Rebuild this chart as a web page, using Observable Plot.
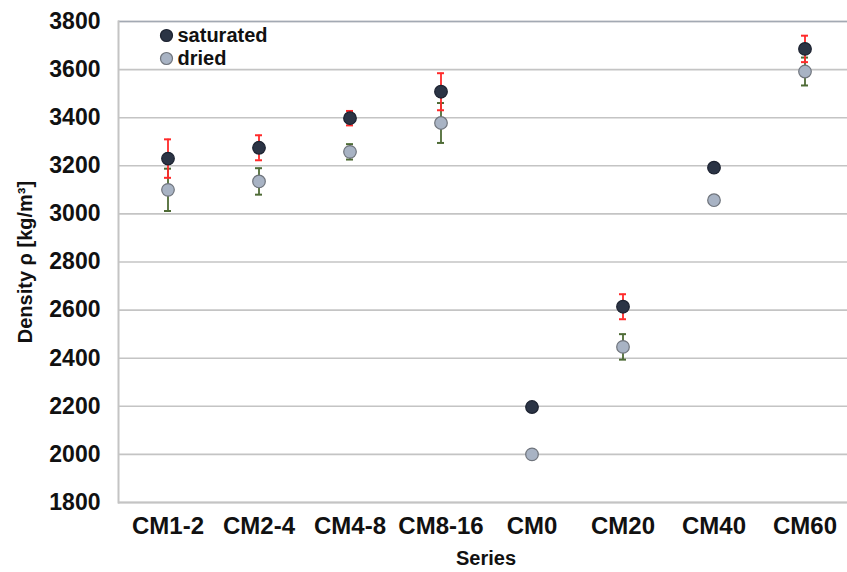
<!DOCTYPE html>
<html>
<head>
<meta charset="utf-8">
<script src="https://cdn.jsdelivr.net/npm/d3@7"></script>
<script src="https://cdn.jsdelivr.net/npm/@observablehq/plot@0.6"></script>
<style>
  html, body { margin: 0; padding: 0; background: #fff; overflow: hidden; }
  #chart svg { display: block; }
</style>
</head>
<body>
<div id="chart"></div>
<script>
// Mix series
const series = ["CM1-2", "CM2-4", "CM4-8", "CM8-16", "CM0", "CM20", "CM40", "CM60"];

// Density of saturated specimens [kg/m3] and its standard deviation
const saturated    = [3230, 3275, 3398, 3508, 2197, 2614, 3192, 3686];
const saturatedErr = [  80,   52,   30,   77,    0,   52,    0,   55];

// Density of dried specimens [kg/m3] and its standard deviation
const dried    = [3100, 3135, 3258, 3378, 2000, 2447, 3057, 3592];
const driedErr = [  88,   55,   32,   83,    0,   53,    0,   58];

// Y axis ticks
const yTicks = [1800, 2000, 2200, 2400, 2600, 2800, 3000, 3200, 3400, 3600, 3800];

const rows = [];
series.forEach((s, i) => {
  rows.push({series: s, state: "dried", value: dried[i], err: driedErr[i]});
  rows.push({series: s, state: "saturated", value: saturated[i], err: saturatedErr[i]});
});
const driedRows = rows.filter(d => d.state === "dried");
const satRows = rows.filter(d => d.state === "saturated");

const style = {
  saturated: {fill: "#2b3445", stroke: "#1c2230", bar: "#ff2a2a"},
  dried: {fill: "#a8b3c4", stroke: "#6f747c", bar: "#4e6b36"}
};

function errorBars(data, color) {
  const withErr = data.filter(d => d.err > 0);
  return [
    Plot.ruleX(withErr, {x: "series", y1: d => d.value - d.err, y2: d => d.value + d.err, stroke: color, strokeWidth: 1.8}),
    Plot.tickY(withErr, {x: "series", y: d => d.value + d.err, stroke: color, strokeWidth: 2, insetLeft: 42, insetRight: 42}),
    Plot.tickY(withErr, {x: "series", y: d => d.value - d.err, stroke: color, strokeWidth: 2, insetLeft: 42, insetRight: 42})
  ];
}

// legend entry drawn in the upper-left corner of the plot area
function legendItem(label, key, dy) {
  return [
    Plot.dot([label], {frameAnchor: "top-left", dx: 48, dy, r: 6,
      fill: style[key].fill, stroke: style[key].stroke, strokeWidth: 1.2}),
    Plot.text([label], {frameAnchor: "top-left", dx: 59, dy, textAnchor: "start", lineAnchor: "middle", fontSize: 20, fill: "#111"})
  ];
}

const chart = Plot.plot({
  width: 847,
  height: 572,
  marginLeft: 118,
  marginRight: -6,
  marginTop: 21,
  marginBottom: 70,
  style: {fontFamily: "'Liberation Sans', Arial, sans-serif", fontWeight: "bold", background: "#fff"},
  x: {type: "band", domain: series, padding: 0, label: null},
  y: {domain: [1800, 3800], label: null},
  marks: [
    Plot.gridY(yTicks, {stroke: "#c4c4c4", strokeOpacity: 1, strokeWidth: 1.6}),
    Plot.ruleY([3800], {stroke: "#a3a9b3", strokeWidth: 1.6}),
    Plot.ruleY([1800], {stroke: "#c4c4c4", strokeWidth: 2}),
    Plot.frame({anchor: "left", stroke: "#c4c4c4", strokeWidth: 2}),
    Plot.axisY(yTicks, {tickSize: 0, tickPadding: 18, fontSize: 23, fill: "#111", label: null, tickFormat: d => String(d)}),
    Plot.axisX({tickSize: 0, tickPadding: 14, fontSize: 24, fill: "#111", label: null}),
    Plot.text(["Series"], {frameAnchor: "bottom", dy: 62, fontSize: 20, fill: "#111"}),
    Plot.text(["Density ρ [kg/m³]"], {frameAnchor: "left", textAnchor: "middle", dx: -93, rotate: -90, fontSize: 20, fill: "#111"}),
    ...errorBars(driedRows, style.dried.bar),
    ...errorBars(satRows, style.saturated.bar),
    Plot.dot(driedRows, {x: "series", y: "value", r: 6.3, fill: style.dried.fill, stroke: style.dried.stroke, strokeWidth: 1.2}),
    Plot.dot(satRows, {x: "series", y: "value", r: 6.3, fill: style.saturated.fill, stroke: style.saturated.stroke, strokeWidth: 1.2}),
    ...legendItem("saturated", "saturated", 14),
    ...legendItem("dried", "dried", 37)
  ]
});

document.getElementById("chart").appendChild(chart);
</script>
</body>
</html>
